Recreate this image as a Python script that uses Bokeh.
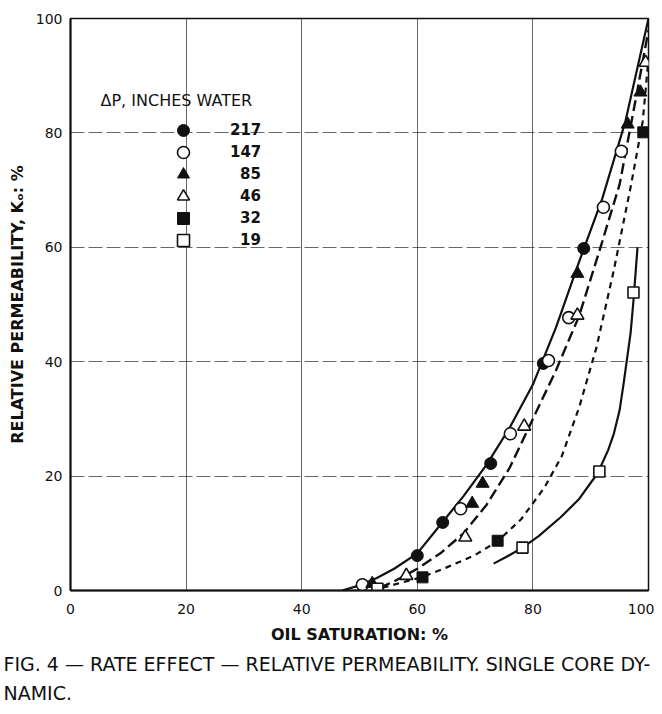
from bokeh.plotting import figure
from bokeh.models import Legend, LegendItem, Label, Title, FixedTicker
from bokeh.embed import file_html
from bokeh.resources import INLINE

# ---- data ----
x_ticks = [0, 20, 40, 60, 80, 100]
y_ticks = [0, 20, 40, 60, 80, 100]

# measured points, per pressure drop (inches water)
p217_x = [60.0, 64.4, 72.7, 81.8, 88.8]
p217_y = [6.1, 11.9, 22.2, 39.7, 59.8]
p147_x = [50.5, 67.5, 76.1, 82.7, 86.2, 92.2, 95.3]
p147_y = [1.0, 14.3, 27.4, 40.2, 47.7, 67.0, 76.8]
p85_x = [52.2, 69.5, 71.3, 87.7, 96.4, 98.6]
p85_y = [1.2, 15.2, 18.7, 55.4, 81.5, 87.1]
p46_x = [58.1, 68.3, 78.5, 87.7, 99.5]
p46_y = [2.6, 9.3, 28.7, 48.1, 92.3]
p32_x = [60.9, 73.9, 99.1]
p32_y = [2.3, 8.7, 80.1]
p19_x = [53.1, 78.2, 91.5, 97.4]
p19_y = [0.3, 7.5, 20.8, 52.1]

# drawn curves
solid_x = [47, 50, 53, 56, 60, 64, 68, 72, 76, 80, 84, 88, 92, 96, 100]
solid_y = [0, 0.9, 2.2, 3.8, 6.5, 11.5, 16.5, 22, 28.5, 36, 46, 57.5, 68.5, 82, 100]
long_x = [53.5, 56, 60, 64, 68, 72, 76, 80, 84, 88, 92, 95, 98, 100]
long_y = [0.5, 1.6, 3.8, 6.5, 10, 15, 21.5, 30, 38.5, 48, 61, 71, 87, 98]
short_x = [54, 57, 61, 65, 70, 74, 78, 82, 85, 88, 91, 94, 97, 99, 100]
short_y = [0.5, 1.3, 2.4, 4, 6.2, 8.7, 12.5, 18, 23.5, 32, 42.5, 56, 71, 82, 93]
low_x = [73.2, 76, 78.2, 81, 84.8, 88, 91.2, 93, 94, 95, 95.7, 96.9, 97.4, 98.1]
low_y = [4.7, 6.2, 7.5, 9.5, 12.8, 16, 20.5, 24.5, 27.4, 31.5, 36.2, 45, 50.7, 60]

legend_labels = ["217", "147", "85", "46", "32", "19"]
legend_title = "ΔP, INCHES WATER"
x_label = "OIL SATURATION: %"
y_label = "RELATIVE PERMEABILITY, Kₒ: %"
caption1 = "FIG. 4 — RATE EFFECT — RELATIVE PERMEABILITY. SINGLE CORE DY-"
caption2 = "NAMIC."

FONT = "DejaVu Sans"
INK = "#111111"

p = figure(width=654, height=714, x_range=(0, 100), y_range=(0, 100),
           output_backend="svg", toolbar_location=None,
           min_border_left=70, min_border_right=6, min_border_top=18,
           min_border_bottom=124, background_fill_color="white",
           border_fill_color="white")

p.outline_line_color = INK
p.outline_line_width = 1.5

for ax in (p.xaxis[0], p.yaxis[0]):
    ax.axis_line_color = INK
    ax.axis_line_width = 2
    ax.major_tick_line_color = None
    ax.minor_tick_line_color = None
    ax.major_tick_out = 0
    ax.major_tick_in = 0
    ax.major_label_text_font = FONT
    ax.major_label_text_font_size = "14px"
    ax.major_label_text_color = INK
    ax.axis_label_text_font = FONT
    ax.axis_label_text_font_style = "bold"
    ax.axis_label_text_color = INK

p.xaxis.ticker = FixedTicker(ticks=x_ticks)
p.yaxis.ticker = FixedTicker(ticks=y_ticks)
p.xaxis.axis_label = x_label
p.yaxis.axis_label = y_label
p.xaxis.axis_label_text_font_size = "16px"
p.yaxis.axis_label_text_font_size = "16px"
p.xaxis.major_label_standoff = 13
p.xaxis.axis_label_standoff = 8
p.yaxis.major_label_standoff = 8
p.yaxis.axis_label_standoff = 6

p.xgrid.grid_line_color = INK
p.xgrid.grid_line_width = 0.8
p.xgrid.grid_line_alpha = 0.8
p.ygrid.grid_line_color = INK
p.ygrid.grid_line_width = 0.8
p.ygrid.grid_line_alpha = 0.8
p.ygrid.grid_line_dash = "14 4"

# curves
p.line(solid_x, solid_y, line_color=INK, line_width=2.2)
p.line(long_x, long_y, line_color=INK, line_width=2.4, line_dash="11 5")
p.line(short_x, short_y, line_color=INK, line_width=2.2, line_dash="6 5")
p.line(low_x, low_y, line_color=INK, line_width=2.2)

# points
r217 = p.scatter(p217_x, p217_y, marker="circle", size=12, fill_color=INK, line_color=INK)
r147 = p.scatter(p147_x, p147_y, marker="circle", size=12, fill_color="white", line_color=INK, line_width=1.6)
r85 = p.scatter(p85_x, p85_y, marker="triangle", size=13, fill_color=INK, line_color=INK)
r46 = p.scatter(p46_x, p46_y, marker="triangle", size=13, fill_color="white", line_color=INK, line_width=1.6)
r32 = p.scatter(p32_x, p32_y, marker="square", size=11, fill_color=INK, line_color=INK)
r19 = p.scatter(p19_x, p19_y, marker="square", size=11, fill_color="white", line_color=INK, line_width=1.6)

# one legend box per entry, so that 30px glyph boxes (12px markers) can sit 22px apart
renderers = [r217, r147, r85, r46, r32, r19]
for i, (lab, r) in enumerate(zip(legend_labels, renderers)):
    standoff = 32 if len(lab) == 3 else 42
    lg = Legend(items=[LegendItem(label=lab, renderers=[r])],
                location=(98, 445 - 22 * i), orientation="vertical",
                background_fill_alpha=0, border_line_color=None,
                padding=0, margin=0, spacing=0, glyph_width=30, glyph_height=30,
                label_height=30, label_standoff=standoff,
                label_text_font=FONT, label_text_font_size="15px",
                label_text_font_style="bold", label_text_color=INK)
    p.add_layout(lg, "center")

p.add_layout(Label(x=30, y=490, x_units="screen", y_units="screen",
                   text=legend_title, text_font=FONT, text_font_size="16px",
                   text_color=INK, text_baseline="middle"))

# caption below the chart (two lines in one title)
p.add_layout(Title(text=caption1 + "\n" + caption2, align="left",
                   vertical_align="top", text_font=FONT,
                   text_font_size="19px", text_font_style="normal",
                   text_line_height=1.35, text_color=INK,
                   offset=-67, standoff=12), "below")

open("out.html", "w").write(file_html(p, INLINE))
